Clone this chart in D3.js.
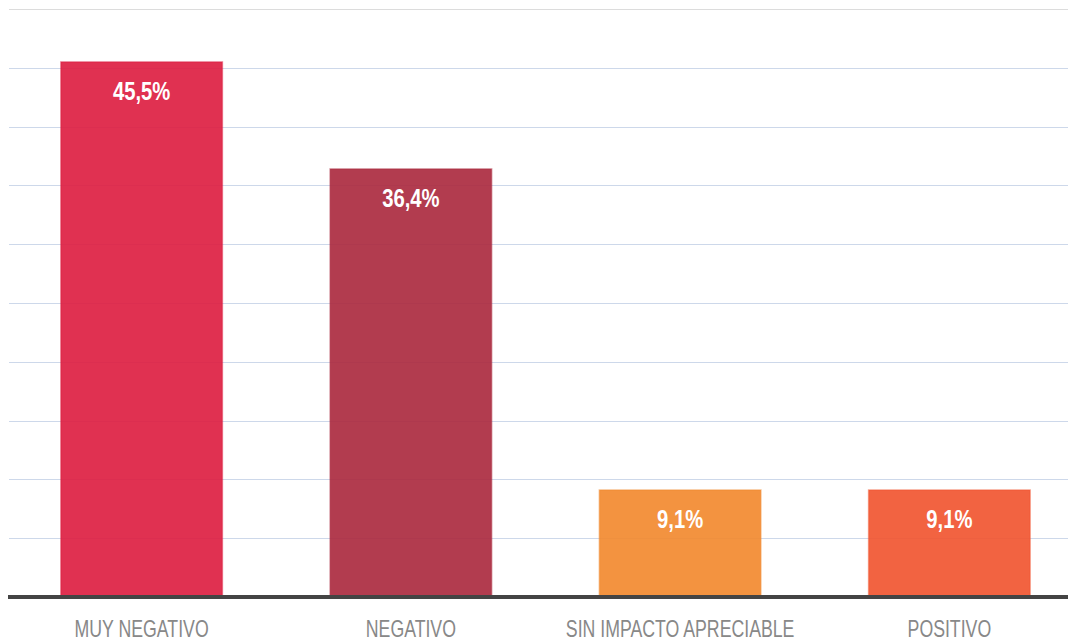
<!DOCTYPE html>
<html>
<head>
<meta charset="utf-8">
<script src="https://cdn.jsdelivr.net/npm/d3@7"></script>
<style>
  body { margin: 0; background: #fff; }
</style>
</head>
<body>
<script>
// --- Data ---
const categories = ["MUY NEGATIVO", "NEGATIVO", "SIN IMPACTO APRECIABLE", "POSITIVO"];
const values = [45.5, 36.4, 9.1, 9.1];
const labels = ["45,5%", "36,4%", "9,1%", "9,1%"];
const colors = ["#dd1f42", "#ab2b40", "#f28a30", "#f15631"];
const gridTicks = [5, 10, 15, 20, 25, 30, 35, 40, 45, 50];

// --- Layout ---
const W = 1068, H = 641;
const BASE_Y = 597, TOP_Y = 9;
const FONT = "'Liberation Sans', Arial, sans-serif";
const NARROW = 0.77; // fake condensed face

const svg = d3.select("body").append("svg")
  .attr("width", W).attr("height", H);

const x = d3.scaleBand()
  .domain(categories)
  .range([7, 1084])
  .paddingInner(0.4)
  .paddingOuter(0.2);

const y = d3.scaleLinear()
  .domain([0, 50])
  .range([BASE_Y, TOP_Y]);

// Gridlines
svg.append("g").selectAll("line")
  .data(gridTicks)
  .join("line")
  .attr("x1", 9).attr("x2", W)
  .attr("y1", d => Math.round(y(d)) + 0.5)
  .attr("y2", d => Math.round(y(d)) + 0.5)
  .attr("stroke", d => d === 50 ? "#dcdcdc" : "#cdd8ea")
  .attr("stroke-width", 1.2);

// Bars
svg.append("g").selectAll("rect")
  .data(values)
  .join("rect")
  .attr("x", (d, i) => x(categories[i]))
  .attr("y", d => y(d))
  .attr("width", x.bandwidth())
  .attr("height", d => BASE_Y - y(d))
  .attr("fill", (d, i) => colors[i])
  .attr("fill-opacity", 0.92)
  .attr("stroke", (d, i) => colors[i])
  .attr("stroke-opacity", 0.5)
  .attr("stroke-width", 1.5);

// Value labels
svg.append("g").selectAll("text")
  .data(values)
  .join("text")
  .attr("transform", (d, i) =>
    `translate(${x(categories[i]) + x.bandwidth() / 2},${y(d) + 38}) scale(${NARROW + 0.04},1)`)
  .attr("text-anchor", "middle")
  .attr("font-family", FONT)
  .attr("font-size", 25)
  .attr("font-weight", "bold")
  .attr("fill", "white")
  .text((d, i) => labels[i]);

// Baseline
svg.append("line")
  .attr("x1", 8).attr("x2", W)
  .attr("y1", BASE_Y).attr("y2", BASE_Y)
  .attr("stroke", "#444")
  .attr("stroke-width", 4);

// Category labels
svg.append("g").selectAll("text")
  .data(categories)
  .join("text")
  .attr("transform", d => `translate(${x(d) + x.bandwidth() / 2},637) scale(${NARROW},1)`)
  .attr("text-anchor", "middle")
  .attr("font-family", FONT)
  .attr("font-size", 23)
  .attr("fill", "#888")
  .text(d => d);
</script>
</body>
</html>
